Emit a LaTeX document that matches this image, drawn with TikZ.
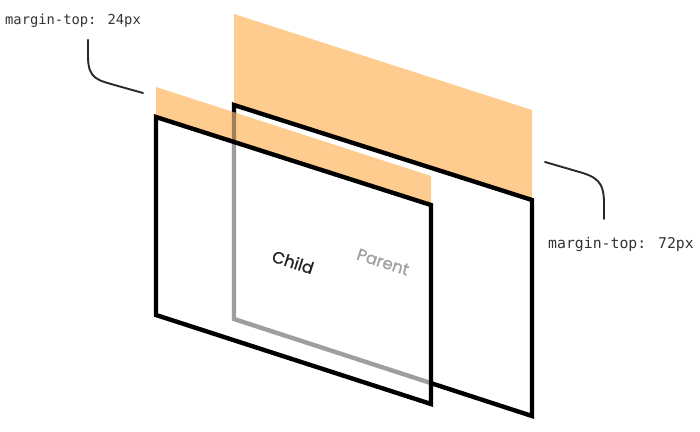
\documentclass[tikz,border=0pt]{standalone}
\usepackage{fontspec}
\newfontfamily\planefont[FakeBold=0.8]{Poppins}
\newfontfamily\codefont{DejaVu Sans Mono}
\usetikzlibrary{positioning}
\definecolor{margincol}{RGB}{255,204,143}
\definecolor{codecol}{RGB}{51,51,51}
\definecolor{childcol}{RGB}{34,34,34}
\definecolor{parentcol}{RGB}{160,160,160}
\begin{document}
\begin{tikzpicture}[x=1pt,y=-1pt,
    plane/.style={line width=4.4pt,line join=miter},
    margin/.style={fill=margincol},
    hook/.style={line width=1.9pt,line cap=round,draw=codecol!80!black},
    code/.style={font=\codefont,text=codecol,inner sep=0pt},
    planelabel/.style={font=\planefont\fontsize{16.5}{18}\selectfont,rotate=-17.8,inner sep=0pt}]
    \useasboundingbox (0,0) rectangle (700,431);
    \fill[margin] (234,14) -- (532,110) -- (532,200) -- (234,104) -- cycle;
    \draw[plane] (234,105) -- (532,200) -- (532,416) -- (234,319) -- cycle;
    \fill[white,opacity=0.62] (156,87) -- (431,176) -- (431,404) -- (156,315) -- cycle;
    \fill[margin,blend mode=multiply] (156,87) -- (431,176) -- (431,205) -- (156,117) -- cycle;
    \draw[plane] (156,117) -- (431,205) -- (431,404) -- (156,315) -- cycle;
    \node[planelabel,text=childcol] (child) at (293,262) {Child};
    \node[planelabel,text=parentcol] (parent) at (383,262) {Parent};
    \node[code,font=\codefont\fontsize{13.8}{16}\selectfont] (mt24) at (73,21) {margin-top: 24px};
    \node[code,font=\codefont\fontsize{14.8}{16}\selectfont] (mt72) at (621,244) {margin-top: 72px};
    \coordinate (tail24) at (143,93);
    \coordinate (tail72) at (545,162);
    \draw[hook] (mt24.south -| 88,0) ++(0,12) -- (88,56) .. controls (88,80) and (98,80) .. (118,86) -- (tail24);
    \draw[hook] (tail72) -- (576,171) .. controls (598,177) and (604,182) .. (604,204) -- (604,219);
\end{tikzpicture}
\end{document}
